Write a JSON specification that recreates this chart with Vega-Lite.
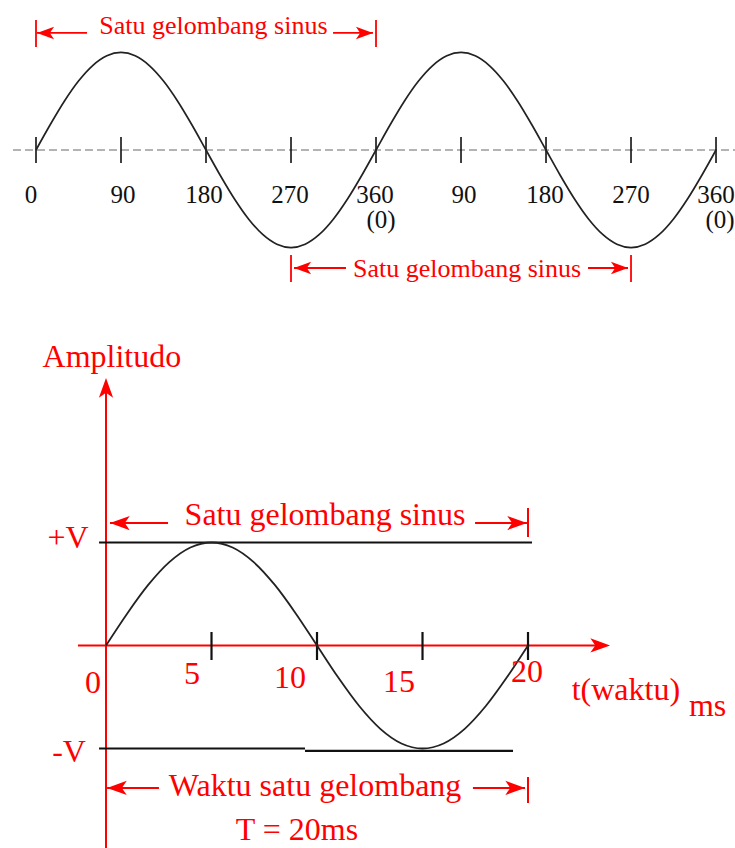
{
  "$schema": "https://vega.github.io/schema/vega-lite/v6.json",
  "padding": 0,
  "spacing": 0,
  "background": "white",
  "config": {"view": {"stroke": null}, "concat": {"spacing": 0}},
  "datasets": {
    "degWave": [
      {"deg": 0, "amp": 0}, {"deg": 15, "amp": 0.2588}, {"deg": 30, "amp": 0.5}, {"deg": 45, "amp": 0.7071},
      {"deg": 60, "amp": 0.866}, {"deg": 75, "amp": 0.9659}, {"deg": 90, "amp": 1}, {"deg": 105, "amp": 0.9659},
      {"deg": 120, "amp": 0.866}, {"deg": 135, "amp": 0.7071}, {"deg": 150, "amp": 0.5}, {"deg": 165, "amp": 0.2588},
      {"deg": 180, "amp": 0}, {"deg": 195, "amp": -0.2588}, {"deg": 210, "amp": -0.5}, {"deg": 225, "amp": -0.7071},
      {"deg": 240, "amp": -0.866}, {"deg": 255, "amp": -0.9659}, {"deg": 270, "amp": -1}, {"deg": 285, "amp": -0.9659},
      {"deg": 300, "amp": -0.866}, {"deg": 315, "amp": -0.7071}, {"deg": 330, "amp": -0.5}, {"deg": 345, "amp": -0.2588},
      {"deg": 360, "amp": 0}, {"deg": 375, "amp": 0.2588}, {"deg": 390, "amp": 0.5}, {"deg": 405, "amp": 0.7071},
      {"deg": 420, "amp": 0.866}, {"deg": 435, "amp": 0.9659}, {"deg": 450, "amp": 1}, {"deg": 465, "amp": 0.9659},
      {"deg": 480, "amp": 0.866}, {"deg": 495, "amp": 0.7071}, {"deg": 510, "amp": 0.5}, {"deg": 525, "amp": 0.2588},
      {"deg": 540, "amp": 0}, {"deg": 555, "amp": -0.2588}, {"deg": 570, "amp": -0.5}, {"deg": 585, "amp": -0.7071},
      {"deg": 600, "amp": -0.866}, {"deg": 615, "amp": -0.9659}, {"deg": 630, "amp": -1}, {"deg": 645, "amp": -0.9659},
      {"deg": 660, "amp": -0.866}, {"deg": 675, "amp": -0.7071}, {"deg": 690, "amp": -0.5}, {"deg": 705, "amp": -0.2588},
      {"deg": 720, "amp": 0}
    ],
    "degZero": [{"deg": -24.35, "deg2": 740.1, "amp": 0, "amp2": 0}],
    "degTicks": [
      {"deg": 0, "deg2": 0, "amp": 0.133, "amp2": -0.133},
      {"deg": 90, "deg2": 90, "amp": 0.133, "amp2": -0.133},
      {"deg": 180, "deg2": 180, "amp": 0.133, "amp2": -0.133},
      {"deg": 270, "deg2": 270, "amp": 0.133, "amp2": -0.133},
      {"deg": 360, "deg2": 360, "amp": 0.133, "amp2": -0.133},
      {"deg": 450, "deg2": 450, "amp": 0.133, "amp2": -0.133},
      {"deg": 540, "deg2": 540, "amp": 0.133, "amp2": -0.133},
      {"deg": 630, "deg2": 630, "amp": 0.133, "amp2": -0.133},
      {"deg": 720, "deg2": 720, "amp": 0.133, "amp2": -0.133}
    ],
    "degSpans": [
      {"deg": 0, "deg2": 0, "amp": 1.333, "amp2": 1.056},
      {"deg": 1.06, "deg2": 54, "amp": 1.2, "amp2": 1.2},
      {"deg": 314.5, "deg2": 356.8, "amp": 1.2, "amp2": 1.2},
      {"deg": 360, "deg2": 360, "amp": 1.333, "amp2": 1.056},
      {"deg": 270, "deg2": 270, "amp": -1.077, "amp2": -1.354},
      {"deg": 273.2, "deg2": 328.2, "amp": -1.21, "amp2": -1.21},
      {"deg": 584.5, "deg2": 626.8, "amp": -1.21, "amp2": -1.21},
      {"deg": 630, "deg2": 630, "amp": -1.077, "amp2": -1.354}
    ],
    "degHeads": [
      {"deg": 1.06, "amp": 1.2, "dir": "left"},
      {"deg": 356.8, "amp": 1.2, "dir": "right"},
      {"deg": 273.2, "amp": -1.21, "dir": "left"},
      {"deg": 626.8, "amp": -1.21, "dir": "right"}
    ],
    "degLabels": [
      {"deg": -5.3, "amp": -0.544, "text": "0"},
      {"deg": 92.1, "amp": -0.544, "text": "90"},
      {"deg": 177.9, "amp": -0.544, "text": "180"},
      {"deg": 268.9, "amp": -0.544, "text": "270"},
      {"deg": 358.9, "amp": -0.544, "text": "360"},
      {"deg": 365.3, "amp": -0.8, "text": "(0)"},
      {"deg": 453.2, "amp": -0.544, "text": "90"},
      {"deg": 538.9, "amp": -0.544, "text": "180"},
      {"deg": 630, "amp": -0.544, "text": "270"},
      {"deg": 720, "amp": -0.544, "text": "360"},
      {"deg": 724.2, "amp": -0.8, "text": "(0)"}
    ],
    "degTitles": [
      {"deg": 187.9, "amp": 1.19, "text": "Satu gelombang sinus"},
      {"deg": 456.4, "amp": -1.3, "text": "Satu gelombang sinus"}
    ],
    "msWave": [
      {"t": 0, "amp": 0}, {"t": 1, "amp": 0.309}, {"t": 2, "amp": 0.5878}, {"t": 3, "amp": 0.809},
      {"t": 4, "amp": 0.9511}, {"t": 5, "amp": 1}, {"t": 6, "amp": 0.9511}, {"t": 7, "amp": 0.809},
      {"t": 8, "amp": 0.5878}, {"t": 9, "amp": 0.309}, {"t": 10, "amp": 0}, {"t": 11, "amp": -0.309},
      {"t": 12, "amp": -0.5878}, {"t": 13, "amp": -0.809}, {"t": 14, "amp": -0.9511}, {"t": 15, "amp": -1},
      {"t": 16, "amp": -0.9511}, {"t": 17, "amp": -0.809}, {"t": 18, "amp": -0.5878}, {"t": 19, "amp": -0.309},
      {"t": 20, "amp": 0}
    ],
    "msAxes": [
      {"t": 0, "t2": 0, "amp": 2.5, "amp2": -1.966},
      {"t": -1.33, "t2": 23.5, "amp": 0, "amp2": 0},
      {"t": 0.19, "t2": 2.94, "amp": 1.189, "amp2": 1.189},
      {"t": 17.49, "t2": 19.95, "amp": 1.189, "amp2": 1.189},
      {"t": 20, "t2": 20, "amp": 1.335, "amp2": 1.053},
      {"t": 0.05, "t2": 2.51, "amp": -1.383, "amp2": -1.383},
      {"t": 17.39, "t2": 19.86, "amp": -1.383, "amp2": -1.383},
      {"t": 20, "t2": 20, "amp": -1.277, "amp2": -1.529}
    ],
    "msLines": [
      {"t": 5, "t2": 5, "amp": 0.131, "amp2": -0.141},
      {"t": 10, "t2": 10, "amp": 0.131, "amp2": -0.141},
      {"t": 15, "t2": 15, "amp": 0.131, "amp2": -0.141},
      {"t": 20, "t2": 20, "amp": 0.131, "amp2": -0.141},
      {"t": -0.33, "t2": 20.19, "amp": 1, "amp2": 1},
      {"t": -0.33, "t2": 9.43, "amp": -1, "amp2": -1},
      {"t": 9.43, "t2": 19.29, "amp": -1.024, "amp2": -1.024}
    ],
    "msHeads": [
      {"t": 0, "amp": 2.597, "dir": "up"},
      {"t": 23.89, "amp": 0, "dir": "right"},
      {"t": 0.19, "amp": 1.189, "dir": "left"},
      {"t": 19.95, "amp": 1.189, "dir": "right"},
      {"t": 0.05, "amp": -1.383, "dir": "left"},
      {"t": 19.86, "amp": -1.383, "dir": "right"}
    ],
    "msText": [
      {"t": 0.28, "amp": 2.704, "text": "Amplitudo"},
      {"t": 10.38, "amp": 1.17, "text": "Satu gelombang sinus"},
      {"t": -1.8, "amp": 0.947, "text": "+V"},
      {"t": -1.75, "amp": -1.131, "text": "-V"},
      {"t": -0.62, "amp": -0.461, "text": "0"},
      {"t": 4.08, "amp": -0.374, "text": "5"},
      {"t": 8.72, "amp": -0.413, "text": "10"},
      {"t": 13.89, "amp": -0.451, "text": "15"},
      {"t": 19.95, "amp": -0.354, "text": "20"},
      {"t": 24.64, "amp": -0.529, "text": "t(waktu)"},
      {"t": 28.51, "amp": -0.684, "text": "ms"},
      {"t": 9.91, "amp": -1.461, "text": "Waktu satu gelombang"},
      {"t": 9.05, "amp": -1.888, "text": "T = 20ms"}
    ]
  },
  "vconcat": [
    {
      "width": 735,
      "height": 300,
      "encoding": {
        "x": {"field": "deg", "type": "quantitative", "axis": null, "scale": {"domain": [-38.12, 740.1], "nice": false, "zero": false}},
        "y": {"field": "amp", "type": "quantitative", "axis": null, "scale": {"domain": [-1.538, 1.538], "nice": false, "zero": false}}
      },
      "layer": [
        {
          "data": {"name": "degZero"},
          "mark": {"type": "rule", "color": "#9a9a9a", "strokeWidth": 1.6, "strokeDash": [8, 4]},
          "encoding": {"x2": {"field": "deg2"}, "y2": {"field": "amp2"}}
        },
        {
          "data": {"name": "degTicks"},
          "mark": {"type": "rule", "color": "#111111", "strokeWidth": 1.6},
          "encoding": {"x2": {"field": "deg2"}, "y2": {"field": "amp2"}}
        },
        {
          "data": {"name": "degWave"},
          "mark": {"type": "line", "color": "#222222", "strokeWidth": 1.7, "interpolate": "monotone"},
          "encoding": {"order": {"field": "deg"}}
        },
        {
          "data": {"name": "degSpans"},
          "mark": {"type": "rule", "color": "#ff0000", "strokeWidth": 1.8},
          "encoding": {"x2": {"field": "deg2"}, "y2": {"field": "amp2"}}
        },
        {
          "data": {"name": "degHeads"},
          "transform": [{"filter": "datum.dir === 'right'"}],
          "mark": {"type": "point", "shape": "M0,0L-1.8,-0.65L-1.35,0L-1.8,0.65Z", "filled": true, "color": "#ff0000", "opacity": 1, "size": 360, "angle": 0}
        },
        {
          "data": {"name": "degHeads"},
          "transform": [{"filter": "datum.dir === 'left'"}],
          "mark": {"type": "point", "shape": "M0,0L-1.8,-0.65L-1.35,0L-1.8,0.65Z", "filled": true, "color": "#ff0000", "opacity": 1, "size": 360, "angle": 180}
        },
        {
          "data": {"name": "degLabels"},
          "mark": {"type": "text", "font": "Liberation Serif", "fontSize": 25, "color": "#111111", "align": "center", "baseline": "alphabetic"},
          "encoding": {"text": {"field": "text"}}
        },
        {
          "data": {"name": "degTitles"},
          "mark": {"type": "text", "font": "Liberation Serif", "fontSize": 26, "color": "#ff0000", "align": "center", "baseline": "alphabetic"},
          "encoding": {"text": {"field": "text"}}
        }
      ]
    },
    {
      "width": 735,
      "height": 548,
      "encoding": {
        "x": {"field": "t", "type": "quantitative", "axis": null, "scale": {"domain": [-5.024, 29.81], "nice": false, "zero": false}},
        "y": {"field": "amp", "type": "quantitative", "axis": null, "scale": {"domain": [-1.966, 3.354], "nice": false, "zero": false}}
      },
      "layer": [
        {
          "data": {"name": "msAxes"},
          "mark": {"type": "rule", "color": "#ff0000", "strokeWidth": 2},
          "encoding": {"x2": {"field": "t2"}, "y2": {"field": "amp2"}}
        },
        {
          "data": {"name": "msLines"},
          "mark": {"type": "rule", "color": "#111111", "strokeWidth": 2.2},
          "encoding": {"x2": {"field": "t2"}, "y2": {"field": "amp2"}}
        },
        {
          "data": {"name": "msWave"},
          "mark": {"type": "line", "color": "#222222", "strokeWidth": 1.8, "interpolate": "monotone"},
          "encoding": {"order": {"field": "t"}}
        },
        {
          "data": {"name": "msHeads"},
          "transform": [{"filter": "datum.dir === 'right'"}],
          "mark": {"type": "point", "shape": "M0,0L-1.8,-0.65L-1.35,0L-1.8,0.65Z", "filled": true, "color": "#ff0000", "opacity": 1, "size": 480, "angle": 0}
        },
        {
          "data": {"name": "msHeads"},
          "transform": [{"filter": "datum.dir === 'left'"}],
          "mark": {"type": "point", "shape": "M0,0L-1.8,-0.65L-1.35,0L-1.8,0.65Z", "filled": true, "color": "#ff0000", "opacity": 1, "size": 480, "angle": 180}
        },
        {
          "data": {"name": "msHeads"},
          "transform": [{"filter": "datum.dir === 'up'"}],
          "mark": {"type": "point", "shape": "M0,0L-1.8,-0.65L-1.35,0L-1.8,0.65Z", "filled": true, "color": "#ff0000", "opacity": 1, "size": 480, "angle": 270}
        },
        {
          "data": {"name": "msText"},
          "mark": {"type": "text", "font": "Liberation Serif", "fontSize": 32, "color": "#ff0000", "align": "center", "baseline": "alphabetic"},
          "encoding": {"text": {"field": "text"}}
        }
      ]
    }
  ]
}
